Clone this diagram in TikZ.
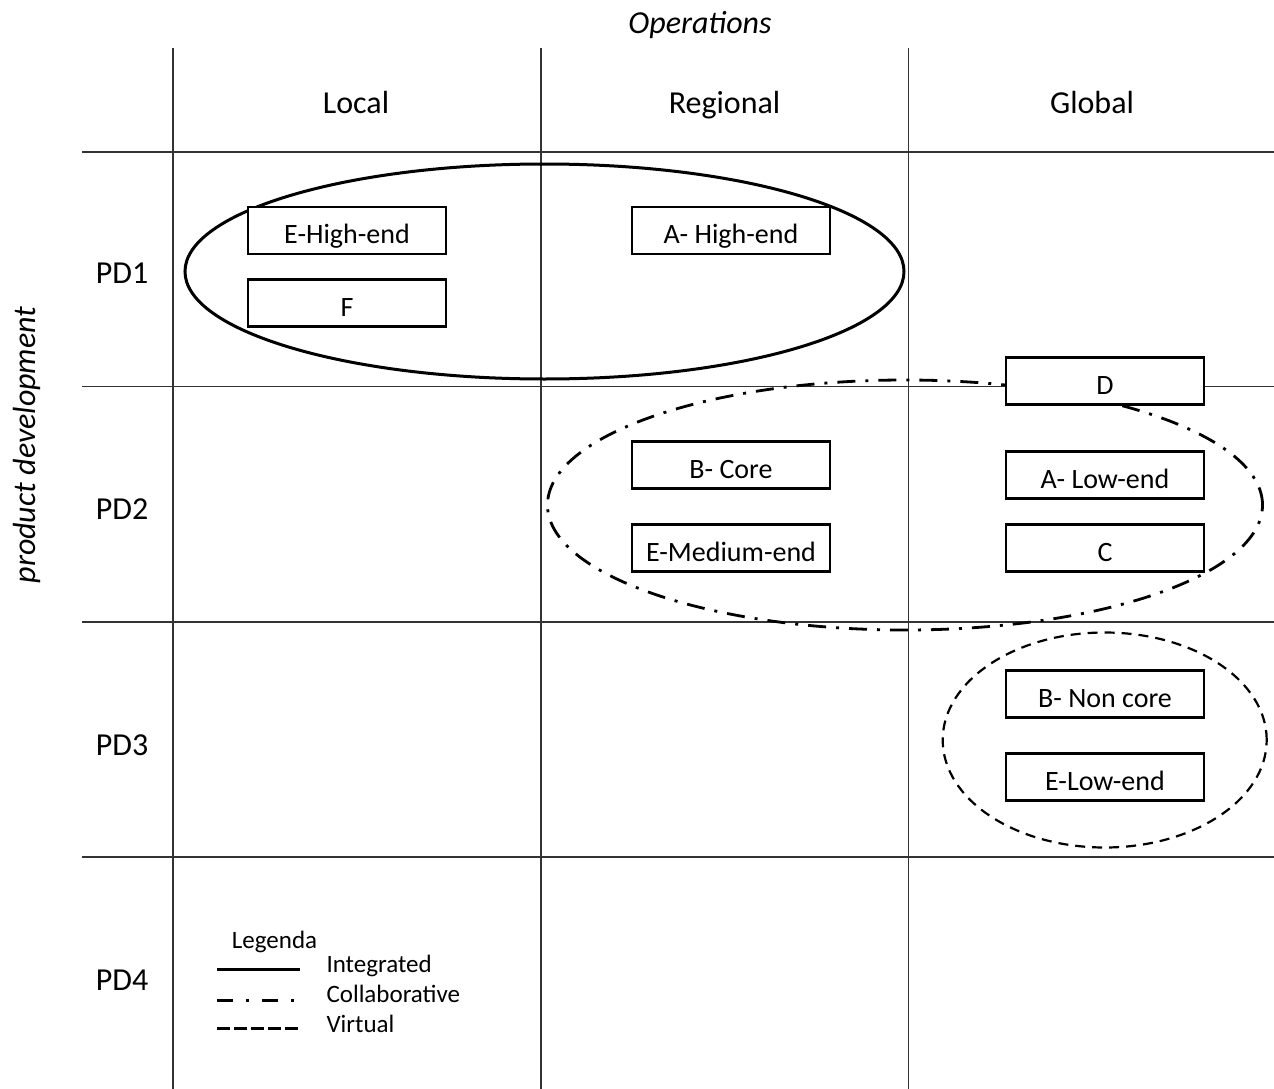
\documentclass[tikz,border=0pt]{standalone}
\usepackage{fontspec}
\setmainfont{Carlito}
\usetikzlibrary{shapes.geometric}
\begin{document}
\begin{tikzpicture}[x=1pt,y=-1pt,
  gridline/.style={line width=1.3pt, draw=black!80},
  item/.style={draw, line width=2.8pt, fill=white, minimum width=198pt, minimum height=47pt, inner sep=0pt, text height=26pt, text depth=0pt, font=\fontsize{28}{32}\selectfont},
  head/.style={font=\fontsize{32}{38}\selectfont, anchor=base},
  legtext/.style={font=\fontsize{25}{30}\selectfont, anchor=base west},
  group/.style={ellipse, draw, inner sep=0pt},
  integ/.style={line width=3pt},
  collab/.style={line width=2.8pt, dash pattern=on 18pt off 10pt on 3pt off 10pt},
  virt/.style={line width=2.2pt, dash pattern=on 10pt off 7pt}
]
\useasboundingbox (0,0) rectangle (1274,1089);
\fill[white] (0,0) rectangle (1274,1089);

% grid
\foreach \yy in {152,386.5,622,857} \draw[gridline] (82,\yy) -- (1274,\yy);
\foreach \xx in {173,541,908.5} \draw[gridline] (\xx,48) -- (\xx,1089);

% axis titles and headers
\node[head, font=\fontsize{32}{38}\selectfont\itshape] (ops) at (700,34) {Operations};
\node[font=\fontsize{32}{38}\selectfont\itshape, rotate=90] (pdev) at (27,445) {product development};
\node[head] (local) at (356,114) {Local};
\node[head] (regional) at (724.5,114) {Regional};
\node[head] (global) at (1092,114) {Global};
\node[head] (pd1) at (122,283) {PD1};
\node[head] (pd2) at (122,519) {PD2};
\node[head] (pd3) at (122,755) {PD3};
\node[head] (pd4) at (122,990) {PD4};

% groups
\node[group, integ, minimum width=719pt, minimum height=215pt] (integrated) at (544.5,271.5) {};
\node[group, collab, minimum width=715pt, minimum height=250pt] (collaborative) at (905,505) {};
\node[group, virt, minimum width=324pt, minimum height=215pt] (virtual) at (1104.7,740) {};

% boxes
\node[item] (eh) at (347,230.5) {E-High-end};
\node[item] (f) at (347,303) {F};
\node[item] (ah) at (731,230.5) {A- High-end};
\node[item] (d) at (1105,381) {D};
\node[item] (bc) at (731,465) {B- Core};
\node[item] (al) at (1105,475) {A- Low-end};
\node[item] (em) at (731,548) {E-Medium-end};
\node[item] (c) at (1105,548) {C};
\node[item] (bn) at (1105,694) {B- Non core};
\node[item] (el) at (1105,777) {E-Low-end};

% legend
\node[font=\fontsize{25}{30}\selectfont, anchor=base] (legenda) at (274.5,948) {Legenda};
\coordinate (l1a) at (217,969); \coordinate (l1b) at (300,969);
\coordinate (l2a) at (217,1000); \coordinate (l2b) at (300,1000);
\coordinate (l3a) at (217,1028); \coordinate (l3b) at (300,1028);
\draw[line width=3pt] (l1a) -- (l1b);
\draw[line width=3pt, dash pattern=on 16pt off 13pt on 3pt off 13pt] (l2a) -- (l2b);
\draw[line width=3pt, dash pattern=on 13pt off 4pt] (l3a) -- (l3b);
\node[legtext] (lint) at (323,972) {Integrated};
\node[legtext] (lcol) at (323,1002) {Collaborative};
\node[legtext] (lvir) at (323,1032) {Virtual};
\end{tikzpicture}
\end{document}
